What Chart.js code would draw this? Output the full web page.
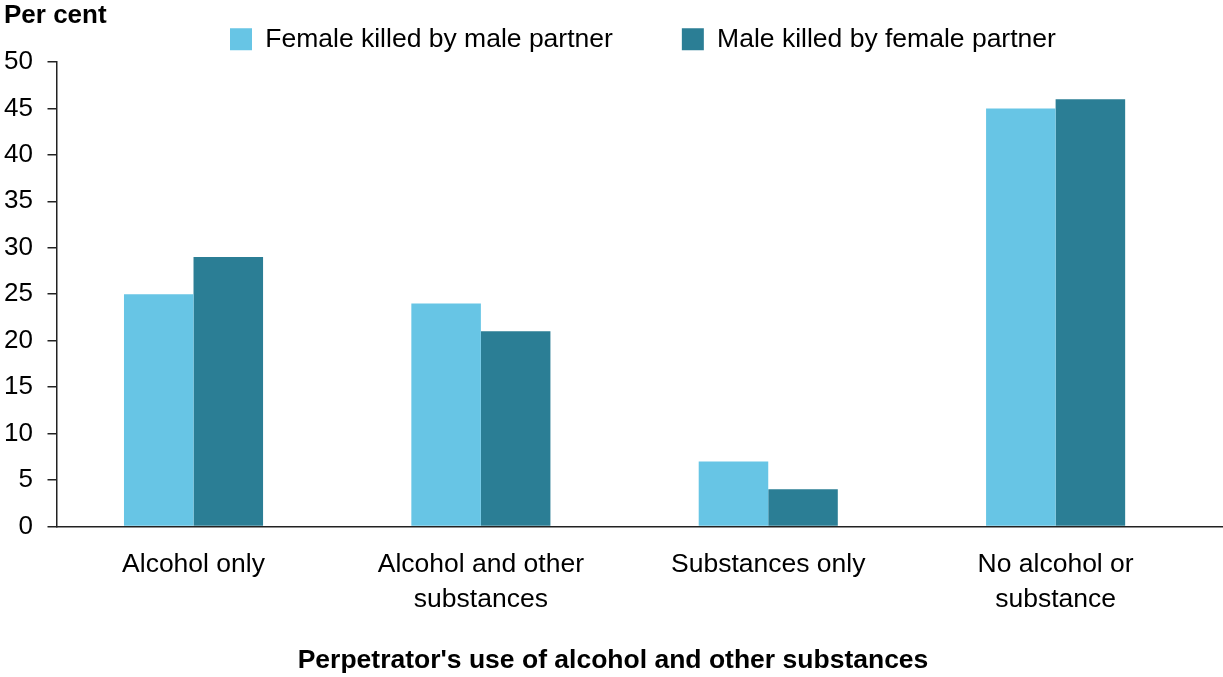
<!DOCTYPE html>
<html>
<head>
<meta charset="utf-8">
<script src="https://cdn.jsdelivr.net/npm/chart.js@4.4.0/dist/chart.umd.min.js"></script>
<style>
  html, body { margin: 0; padding: 0; background: #ffffff; }
  #wrap { position: relative; width: 1223px; height: 677px; }
</style>
</head>
<body>
<div id="wrap"><canvas id="c" width="1223" height="677"></canvas></div>
<script>
const categories = [
  ['Alcohol only'],
  ['Alcohol and other', 'substances'],
  ['Substances only'],
  ['No alcohol or', 'substance']
];
const seriesNames = ['Female killed by male partner', 'Male killed by female partner'];
const femaleKilledByMale = [25, 24, 7, 45];
const maleKilledByFemale = [29, 21, 4, 46];
const yTicks = [0, 5, 10, 15, 20, 25, 30, 35, 40, 45, 50];
const yTitle = 'Per cent';
const xTitle = "Perpetrator's use of alcohol and other substances";

const FONT = "'Liberation Sans', Arial, Helvetica, sans-serif";

const toPoints = arr => arr.map((v, i) => ({ x: i, y: v }));

const legendShift = {
  id: 'legendShift',
  afterLayout(chart) {
    const lg = chart.legend;
    if (!lg || !lg.lineWidths) return;
    const pad = lg.options.labels.padding;
    const cx = (lg.left + pad + lg.right - lg.lineWidths[0]) / 2;
    const dx = 230 - cx;
    lg.left += dx;
    lg.right += dx;
    lg.top = 26 - pad;
  }
};

new Chart(document.getElementById('c'), {
  type: 'bar',
  data: {
    datasets: [
      { label: seriesNames[0], data: toPoints(femaleKilledByMale), backgroundColor: '#67C5E5', borderWidth: 0 },
      { label: seriesNames[1], data: toPoints(maleKilledByFemale), backgroundColor: '#2B7E95', borderWidth: 0 }
    ]
  },
  plugins: [legendShift],
  options: {
    responsive: false,
    animation: false,
    devicePixelRatio: 1,
    layout: { padding: { left: 4, right: 1, top: 0, bottom: 0 } },
    datasets: { bar: { barPercentage: 1.0, categoryPercentage: 0.484 } },
    plugins: {
      tooltip: { enabled: false },
      title: {
        display: true, text: yTitle, align: 'start', position: 'top',
        color: '#000', font: { family: FONT, size: 26, weight: 'bold', lineHeight: 1.2 },
        padding: { top: 0, bottom: 0 }
      },
      subtitle: {
        display: true, text: xTitle, position: 'bottom', align: 'center',
        color: '#000', font: { family: FONT, size: 26.5, weight: 'bold', lineHeight: 1.2 },
        padding: { top: 7.8, bottom: 0 }
      },
      legend: {
        display: true, position: 'top', align: 'center', maxHeight: 30.8,
        labels: {
          boxWidth: 22, boxHeight: 22, padding: 69, color: '#000',
          font: { family: FONT, size: 26.5 }
        }
      }
    },
    scales: {
      x: {
        type: 'linear',
        offset: false,
        min: -0.4768,
        max: 3.579,
        grid: { display: false, drawTicks: false, offset: false },
        border: { display: true, color: '#222', width: 1.5 },
        afterBuildTicks(scale) {
          scale.ticks = categories.map((c, i) => ({ value: i }));
        },
        ticks: {
          includeBounds: false,
          stepSize: 1,
          autoSkip: false,
          maxRotation: 0,
          minRotation: 0,
          padding: 20.5,
          color: '#000',
          font: { family: FONT, size: 26.5, lineHeight: 35 / 26.5 },
          callback: (v) => (Number.isInteger(v) && categories[v]) ? categories[v] : ''
        }
      },
      y: {
        min: 0, max: 50,
        afterBuildTicks(scale) {
          scale.ticks = yTicks.map(v => ({ value: v }));
        },
        afterFit(scale) { scale.width = 52.5; },
        grid: { display: true, drawOnChartArea: false, drawTicks: true, tickLength: 9, color: '#222', lineWidth: 1.5 },
        border: { display: true, color: '#222', width: 1.5 },
        ticks: {
          stepSize: 5, padding: 14.5, color: '#000',
          font: { family: FONT, size: 26 }
        }
      }
    }
  }
});
</script>
</body>
</html>
